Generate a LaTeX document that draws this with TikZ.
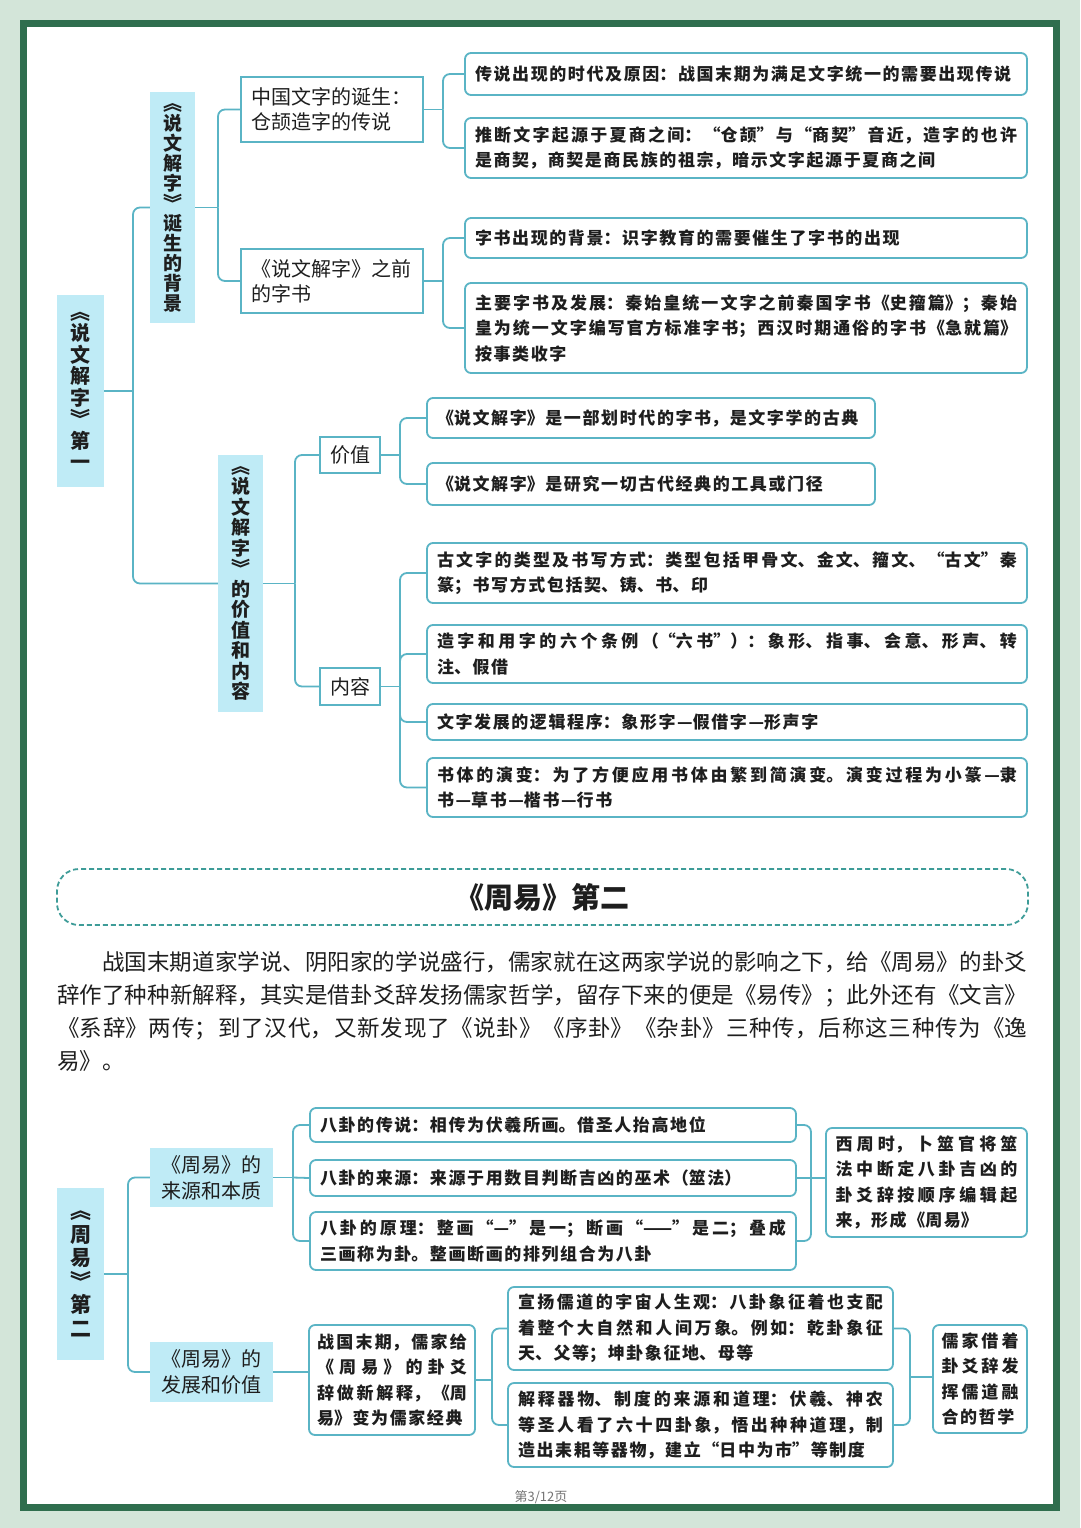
\documentclass[tikz,border=0pt]{standalone}
\usepackage{fontspec}
\newfontfamily\cjk{Noto Sans CJK SC}
\XeTeXlinebreaklocale "zh"
\XeTeXlinebreakskip=0pt plus 3pt
\newcommand\leafsp{\XeTeXlinebreakskip=1.6pt plus 3pt\relax}
\newcommand\leaffont{\cjk\bfseries\fontsize{17}{25.5}\selectfont\leafsp}
\definecolor{bgc}{HTML}{D3E5D9}
\definecolor{framec}{HTML}{2F6E4E}
\definecolor{linec}{HTML}{5AB4C5}
\definecolor{cyanf}{HTML}{BFEBF6}
\definecolor{txt}{HTML}{1E1E1E}
\definecolor{dashc}{HTML}{3E9C98}
\tikzset{
  conn/.style={draw=linec, line width=1.8pt, rounded corners=7pt},
  sqbox/.style={draw=linec, line width=1.8pt, fill=white, inner xsep=10pt, inner ysep=0pt, align=left, font=\cjk\fontsize{20}{25}\selectfont, text=txt},
  leaf/.style={draw=linec, line width=1.8pt, fill=white, rounded corners=6pt, inner xsep=10pt, inner ysep=0pt, align=justify, font=\leaffont, text=txt},
  vnode/.style={fill=cyanf, inner sep=0pt, align=center, text=txt},
  cfill/.style={fill=cyanf, inner sep=0pt, align=center, font=\cjk\fontsize{20}{26}\selectfont, text=txt},
}
\begin{document}
\begin{tikzpicture}[x=1pt,y=-1pt]
\useasboundingbox (0,0) rectangle (1080,1528);
\fill[bgc] (0,0) rectangle (1080,1528);
\draw[framec, line width=7pt, fill=white] (23.5,23.5) rectangle (1056.5,1507.5);

% ---------- section 1 ----------
\node[vnode, minimum width=47pt, minimum height=192pt, font=\cjk\bfseries\fontsize{20}{21.5}\selectfont] (root1) at (80.5,391) {︽\\说\\文\\解\\字\\︾\\第\\一};
\node[vnode, minimum width=45pt, minimum height=231pt, font=\cjk\bfseries\fontsize{19}{20}\selectfont] (bg1) at (172.5,207.5) {︽\\说\\文\\解\\字\\︾\\诞\\生\\的\\背\\景};
\node[vnode, minimum width=45pt, minimum height=257pt, font=\cjk\bfseries\fontsize{19}{20.5}\selectfont] (vc1) at (240.5,583.5) {︽\\说\\文\\解\\字\\︾\\的\\价\\值\\和\\内\\容};

\node[sqbox, text width=162pt, minimum height=65pt] (A) at (332,109.5) {中国文字的诞生：\\仓颉造字的传说};
\node[sqbox, text width=162pt, minimum height=64pt] (B) at (332,281) {《说文解字》之前\\的字书};

\node[leaf, text width=542pt, minimum height=42pt] (L1) at (746,74) {传说出现的时代及原因：战国末期为满足文字统一的需要出现传说};
\node[leaf, text width=542pt, minimum height=60pt] (L2) at (746,148) {推断文字起源于夏商之间：“仓颉”与“商契”音近，造字的也许\linebreak 是商契，商契是商民族的祖宗，暗示文字起源于夏商之间};
\node[leaf, text width=542pt, minimum height=40pt] (L3) at (746,238) {字书出现的背景：识字教育的需要催生了字书的出现};
\node[leaf, text width=542pt, minimum height=90pt] (L4) at (746,328) {主要字书及发展：秦始皇统一文字之前秦国字书《史籀篇》；秦始\linebreak 皇为统一文字编写官方标准字书；西汉时期通俗的字书《急就篇》\linebreak 按事类收字};

\node[sqbox, inner xsep=0pt, minimum width=60pt, minimum height=36pt, align=center] (V) at (350,455) {价值};
\node[sqbox, inner xsep=0pt, minimum width=60pt, minimum height=37pt, align=center] (N) at (350,686.5) {内容};

\node[leaf, text width=428pt, minimum height=40pt] (V1) at (651,418) {《说文解字》是一部划时代的字书，是文字学的古典};
\node[leaf, text width=428pt, minimum height=42pt] (V2) at (651,484) {《说文解字》是研究一切古代经典的工具或门径};

\node[leaf, text width=580pt, minimum height=60pt] (C1) at (727,573) {古文字的类型及书写方式：类型包括甲骨文、金文、籀文、“古文”秦\linebreak 篆；书写方式包括契、铸、书、印};
\node[leaf, text width=580pt, minimum height=58pt] (C2) at (727,654) {造字和用字的六个条例（“六书”）：象形、指事、会意、形声、转\linebreak 注、假借};
\node[leaf, text width=580pt, minimum height=36pt] (C3) at (727,722) {文字发展的逻辑程序：象形字—假借字—形声字};
\node[leaf, text width=580pt, minimum height=59pt] (C4) at (727,787.5) {书体的演变：为了方便应用书体由繁到简演变。演变过程为小篆—隶\linebreak 书—草书—楷书—行书};

\coordinate (j1) at (133,391);
\draw[conn] (root1.east) -- (j1);
\draw[conn] (bg1.west) -| (j1);
\draw[conn] (vc1.west) -| (j1);
\coordinate (j2) at (218,207.5);
\draw[conn] (bg1.east) -- (j2);
\draw[conn] (A.west) -| (j2);
\draw[conn] (B.west) -| (j2);
\coordinate (j3) at (443,109.5);
\draw[conn] (A.east) -- (j3);
\draw[conn] (L1.west) -| (j3);
\draw[conn] (L2.west) -| (j3);
\coordinate (j4) at (443,281);
\draw[conn] (B.east) -- (j4);
\draw[conn] (L3.west) -| (j4);
\draw[conn] (L4.west) -| (j4);
\coordinate (j5) at (295,583.5);
\draw[conn] (vc1.east) -- (j5);
\draw[conn] (V.west) -| (j5);
\draw[conn] (N.west) -| (j5);
\coordinate (j6) at (400,455);
\draw[conn] (V.east) -- (j6);
\draw[conn] (V1.west) -| (j6);
\draw[conn] (V2.west) -| (j6);
\coordinate (j7) at (400,686.5);
\draw[conn] (N.east) -- (j7);
\draw[conn] (C1.west) -| (j7);
\draw[conn] (C2.west) -| (j7);
\draw[conn] (C3.west) -| (j7);
\draw[conn] (C4.west) -| (j7);

% ---------- title and paragraph ----------
\node[draw=dashc, line width=1.8pt, dash pattern=on 5pt off 3pt, rounded corners=22pt, minimum width=971pt, minimum height=56pt, inner sep=0pt, font=\cjk\bfseries\fontsize{29}{30}\selectfont, text=txt] (t2) at (542.5,897) {《周易》第二};
\node[anchor=north west, inner sep=0pt, text width=970pt, align=justify, font=\cjk\fontsize{22.5}{33}\selectfont, text=txt] (para) at (57,951) {\hspace*{2em}战国末期道家学说、阴阳家的学说盛行，儒家就在这两家学说的影响之下，给《周易》的卦爻\linebreak 辞作了种种新解释，其实是借卦爻辞发扬儒家哲学，留存下来的便是《易传》；此外还有《文言》\linebreak 《系辞》两传；到了汉代，又新发现了《说卦》《序卦》《杂卦》三种传，后称这三种传为《逸\linebreak 易》。};

% ---------- section 2 ----------
\node[vnode, minimum width=47pt, minimum height=172pt, font=\cjk\bfseries\fontsize{21}{23.5}\selectfont] (root2) at (80.5,1274) {︽\\周\\易\\︾\\第\\二};
\node[cfill, minimum width=123pt, minimum height=59pt] (O) at (211.5,1177.5) {《周易》的\\来源和本质};
\node[cfill, minimum width=123pt, minimum height=60pt] (D) at (211.5,1372) {《周易》的\\发展和价值};

\node[leaf, text width=466pt, minimum height=34pt] (Y1) at (553,1125) {八卦的传说：相传为伏羲所画。借圣人抬高地位};
\node[leaf, text width=466pt, minimum height=36pt] (Y2) at (553,1178) {八卦的来源：来源于用数目判断吉凶的巫术（筮法）};
\node[leaf, text width=466pt, minimum height=58pt] (Y3) at (553,1241) {八卦的原理：整画“—”是一；断画“——”是二；叠成\linebreak 三画称为卦。整画断画的排列组合为八卦};
\node[leaf, inner xsep=9.5pt, text width=182pt, minimum height=109pt] (R) at (926.5,1182.5) {西周时，卜筮官将筮\linebreak 法中断定八卦吉凶的\linebreak 卦爻辞按顺序编辑起\linebreak 来，形成《周易》};

\node[leaf, inner xsep=8pt, text width=150pt, minimum height=110pt] (Z) at (392,1380) {战国末期，儒家给\linebreak \makebox[150pt][s]{《\hfil 周\hfil 易\hfil 》\hfil 的\hfil 卦\hfil 爻}\linebreak 辞做新解释，《周\linebreak 易》变为儒家经典};
\node[leaf, text width=365pt, minimum height=83pt] (P1) at (700.5,1328.5) {宣扬儒道的宇宙人生观：八卦象征着也支配\linebreak 着整个大自然和人间万象。例如：乾卦象征\linebreak 天、父等；坤卦象征地、母等};
\node[leaf, text width=365pt, minimum height=84pt] (P2) at (700.5,1425) {解释器物、制度的来源和道理：伏羲、神农\linebreak 等圣人看了六十四卦象，悟出种种道理，制\linebreak 造出耒耜等器物，建立“日中为市”等制度};
\node[leaf, inner xsep=8.5pt, text width=77pt, minimum height=108pt] (Q) at (980,1379) {儒家借着\linebreak 卦爻辞发\linebreak 挥儒道融\linebreak 合的哲学};

\coordinate (j8) at (128,1274);
\draw[conn] (root2.east) -- (j8);
\draw[conn] (O.west) -| (j8);
\draw[conn] (D.west) -| (j8);
\coordinate (j9) at (293,1177.5);
\draw[conn] (O.east) -- (j9);
\draw[conn] (Y1.west) -| (j9);
\draw[conn] (Y2.west) -- (j9);
\draw[conn] (Y3.west) -| (j9);
\coordinate (j10) at (811,1178);
\draw[conn] (Y1.east) -| (j10);
\draw[conn] (Y3.east) -| (j10);
\draw[conn] (Y2.east) -- (j10) -- (j10 -| R.west);
\draw[conn] (D.east) -- (D.east -| Z.west);
\coordinate (j11) at (492,1380);
\draw[conn] (Z.east) -- (j11);
\draw[conn] (P1.west) -| (j11);
\draw[conn] (P2.west) -| (j11);
\coordinate (j12) at (910,1377);
\draw[conn] (P1.east) -| (j12);
\draw[conn] (P2.east) -| (j12);
\draw[conn] (j12) -- (j12 -| Q.west);

\node[inner sep=0pt, font=\cjk\fontsize{13}{13}\selectfont, text=black!55] (foot) at (541,1497) {第3/12页};
\end{tikzpicture}
\end{document}
